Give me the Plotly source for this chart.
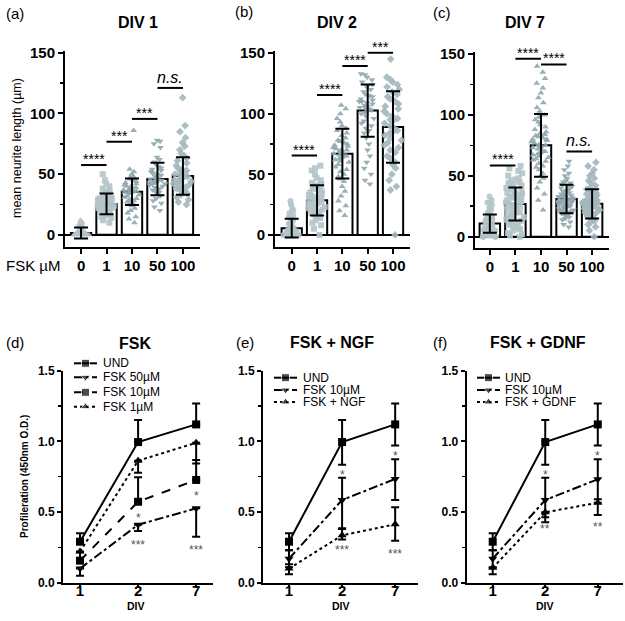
import plotly.graph_objects as go

FONT = "Liberation Sans, Arial, sans-serif"
W, H = 625, 621

# ---------------- data: neurite length (top) ----------------
conc_labels = ["0", "1", "10", "50", "100"]
len_ticks = [0, 50, 100, 150]

a_mean = [1.5, 25.5, 35.5, 46, 48.5]
a_sd = [4.5, 8.5, 11, 13.3, 15.5]
b_mean = [5.5, 28.5, 67, 102.5, 89]
b_sd = [7.7, 12.5, 20.5, 21.5, 29.5]
c_mean = [10.8, 26.8, 75, 31, 27]
c_sd = [7.5, 13.6, 25.7, 11.7, 12]

a_pts = [
    [0, 0, 0, 0, 0, 0, 0.5, 0.5, 1, 1, 1, 1.5, 2, 2, 2, 2.5, 3, 3, 3, 4, 4, 5, 5, 6, 7, 8, 9, 10, 11, 12, 0, 1, 2, 0, 1],
    [10, 12, 14, 15, 16, 17, 18, 18, 19, 20, 20, 21, 22, 22, 23, 24, 24, 25, 25, 26, 26, 27, 27, 28, 28, 29, 29, 30, 30, 31, 32, 33, 34, 35, 36, 38, 40, 42, 45, 50, 24, 26, 28, 30],
    [10, 13, 15, 18, 20, 22, 24, 25, 26, 27, 28, 29, 30, 31, 32, 33, 34, 35, 35, 36, 36, 37, 37, 38, 38, 39, 40, 41, 42, 43, 44, 45, 46, 47, 48, 50, 52, 54, 86, 35, 40],
    [20, 23, 26, 28, 30, 32, 34, 35, 36, 37, 38, 39, 40, 41, 42, 42, 43, 44, 44, 45, 46, 46, 47, 48, 49, 50, 51, 52, 53, 54, 55, 56, 58, 60, 62, 64, 72, 75, 77, 78, 45, 43],
    [25, 27, 29, 31, 33, 34, 35, 36, 37, 38, 39, 40, 41, 42, 43, 44, 45, 46, 47, 48, 49, 50, 51, 52, 53, 54, 55, 57, 59, 61, 63, 65, 67, 70, 73, 76, 80, 85, 90, 113, 48, 44],
]
b_pts = [
    [0, 0, 0, 0, 0, 1, 1, 1, 2, 2, 2, 3, 3, 4, 4, 5, 5, 6, 7, 8, 9, 10, 11, 12, 13, 14, 15, 16, 18, 20, 22, 25, 28, 0, 1, 2],
    [0, 5, 8, 10, 12, 14, 15, 16, 17, 18, 19, 20, 21, 22, 23, 24, 25, 26, 27, 28, 29, 30, 30, 31, 32, 33, 34, 35, 36, 37, 38, 39, 40, 41, 42, 43, 45, 47, 50, 53, 55, 57, 25, 28, 30, 22],
    [16, 20, 24, 28, 32, 36, 40, 44, 46, 48, 50, 52, 54, 56, 58, 60, 61, 62, 63, 64, 65, 66, 67, 68, 69, 70, 71, 72, 73, 74, 75, 76, 77, 78, 80, 82, 84, 86, 88, 90, 93, 96, 100, 104, 107, 65, 70],
    [42, 45, 50, 55, 60, 65, 70, 75, 80, 84, 86, 88, 90, 92, 94, 96, 98, 100, 101, 102, 103, 104, 105, 106, 107, 108, 109, 110, 111, 112, 114, 116, 118, 120, 122, 124, 126, 128, 130, 132, 133, 105, 110, 115],
    [0, 37, 40, 45, 50, 55, 58, 60, 63, 65, 68, 70, 72, 74, 76, 78, 80, 82, 84, 86, 88, 90, 92, 94, 96, 98, 100, 102, 104, 106, 108, 110, 112, 114, 116, 118, 120, 122, 124, 126, 128, 130, 145, 85, 95],
]
c_pts = [
    [0, 0, 0, 0, 1, 1, 1, 2, 2, 3, 3, 4, 4, 5, 5, 6, 6, 7, 7, 8, 8, 9, 10, 10, 11, 12, 13, 14, 15, 16, 17, 18, 20, 22, 24, 26, 28, 30, 33, 5, 8, 10],
    [0, 1, 2, 3, 5, 6, 7, 8, 9, 10, 11, 12, 13, 14, 15, 16, 17, 18, 19, 20, 21, 22, 23, 24, 25, 26, 27, 28, 29, 30, 31, 32, 33, 34, 35, 36, 37, 38, 39, 40, 41, 42, 43, 44, 45, 46, 47, 48, 50, 52, 54, 56, 58, 20, 25, 30, 35],
    [22, 30, 35, 40, 45, 48, 50, 52, 55, 57, 58, 60, 62, 63, 64, 65, 66, 67, 68, 69, 70, 71, 72, 73, 74, 75, 76, 77, 78, 79, 80, 81, 82, 83, 84, 85, 86, 88, 90, 92, 94, 96, 98, 100, 103, 106, 110, 114, 118, 122, 126, 130, 135, 140, 75, 80],
    [8, 10, 12, 14, 15, 16, 17, 18, 18, 19, 20, 20, 21, 21, 22, 22, 23, 23, 24, 24, 25, 25, 26, 26, 27, 27, 28, 28, 29, 29, 30, 30, 31, 31, 32, 32, 33, 33, 34, 34, 35, 35, 36, 37, 38, 39, 40, 41, 42, 43, 44, 45, 46, 48, 50, 52, 55, 58, 62, 25, 27, 29, 30, 31, 33],
    [0, 5, 8, 10, 12, 13, 14, 15, 16, 17, 18, 19, 20, 20, 21, 22, 22, 23, 24, 24, 25, 25, 26, 26, 27, 27, 28, 28, 29, 30, 30, 31, 32, 33, 34, 35, 36, 37, 38, 39, 40, 42, 44, 46, 48, 50, 52, 55, 58, 61, 24, 26, 28, 30],
]

# significance brackets: (from index, to index, height, label)
a_sig = [(0, 1, 57.5, "****"), (1, 2, 76.7, "***"), (2, 3, 95.5, "***"), (3, 4, 121, "<i>n.s.</i>")]
b_sig = [(0, 1, 65.4, "****"), (1, 2, 115.4, "****"), (2, 3, 139.3, "****"), (3, 4, 150.3, "***")]
c_sig = [(0, 1, 58.5, "****"), (1, 2, 146.2, "****"), (2, 3, 141.5, "****"), (3, 4, 70, "<i>n.s.</i>")]

# ---------------- data: proliferation (bottom) ----------------
div_labels = ["1", "2", "7"]
od_ticks = [0, 0.5, 1.0, 1.5]
od_tick_labels = ["0.0", "0.5", "1.0", "1.5"]

und_mean = [0.29, 0.995, 1.12]
und_up = [0.06, 0.157, 0.148]
und_dn = [0.06, 0.16, 0.15]

d_f50_mean = [0.10, 0.41, 0.526]
d_f50_dn = [0.05, 0.045, 0.2]
d_f10_mean = [0.156, 0.573, 0.727]
d_f10_up = [0.06, 0.173, 0.141]
d_f1_mean = [0.22, 0.863, 0.99]
d_f1_dn = [0.05, 0.085, 0.146]

e_f10_mean = [0.17, 0.585, 0.734]
e_f10_up = [0.06, 0.158, 0.139]
e_f10_dn = [0.06, 0.2, 0.149]
ngf_mean = [0.10, 0.335, 0.413]
ngf_up = [0.03, 0.045, 0.12]
ngf_dn = [0.04, 0.03, 0.116]

f_f10_mean = [0.17, 0.585, 0.732]
f_f10_up = [0.06, 0.158, 0.141]
f_f10_dn = [0.06, 0.158, 0.141]
gdnf_mean = [0.105, 0.498, 0.566]
gdnf_dn = [0.045, 0.035, 0.087]

d_stars = [(1, 0.479, "*"), (1, 0.29, "***"), (2, 0.637, "*"), (2, 0.255, "***")]
e_stars = [(1, 0.786, "*"), (1, 0.255, "***"), (2, 0.918, "*"), (2, 0.226, "***")]
f_stars = [(1, 0.786, "*"), (1, 0.40, "**"), (2, 0.918, "*"), (2, 0.415, "**")]

# ---------------- helpers ----------------
def px(x):
    return x / W

def py(y):
    return 1 - y / H

def bold(labels):
    return ["<b>%s</b>" % t for t in labels]

LIGHT = "#b3c4c9"
DARK = "#8fa7ae"
MID = "#a3b7bd"
dot_styles = [("triangle-up", LIGHT), ("square", LIGHT), ("triangle-up", DARK),
              ("triangle-down", DARK), ("diamond", MID)]
dot_styles_bc = [("circle", LIGHT), ("square", LIGHT), ("triangle-up", DARK),
                 ("triangle-down", DARK), ("diamond", MID)]

fig = go.Figure()
annotations = []

top_panels = [
    dict(n="", means=a_mean, sd=a_sd, pts=a_pts, sig=a_sig, styles=dot_styles,
         xdom=[px(65), px(200)], ydom=[py(247), py(50.9)], xr=[-0.63, 4.67], yr=[-10, 151.5]),
    dict(n="2", means=b_mean, sd=b_sd, pts=b_pts, sig=b_sig, styles=dot_styles_bc,
         xdom=[px(275), px(410)], ydom=[py(247), py(51.2)], xr=[-0.66, 4.67], yr=[-10, 151.5]),
    dict(n="3", means=c_mean, sd=c_sd, pts=c_pts, sig=c_sig, styles=dot_styles_bc,
         xdom=[px(475), px(609)], ydom=[py(248), py(52.2)], xr=[-0.58, 4.66], yr=[-9.3, 151.5]),
]

layout_axes = {}
idx = list(range(len(conc_labels)))
for p in top_panels:
    n = p["n"]
    xa, ya = "x" + n, "y" + n
    fig.add_trace(go.Bar(x=idx, y=p["means"], width=0.8, xaxis=xa, yaxis=ya,
                         marker=dict(color="white", line=dict(color="black", width=2)),
                         showlegend=False, hoverinfo="skip"))
    for i, vals in enumerate(p["pts"]):
        sym, col = p["styles"][i]
        fig.add_trace(go.Box(x=[idx[i]] * len(vals), y=vals, xaxis=xa, yaxis=ya,
                             boxpoints="all", jitter=1, pointpos=0, width=0.8,
                             fillcolor="rgba(0,0,0,0)", line=dict(width=0, color="rgba(0,0,0,0)"),
                             marker=dict(symbol=sym, color=col, size=6, opacity=0.9),
                             showlegend=False, hoverinfo="skip"))
    fig.add_trace(go.Scatter(x=idx, y=p["means"], mode="markers", xaxis=xa, yaxis=ya,
                             marker=dict(size=1, color="rgba(0,0,0,0)"),
                             error_y=dict(type="data", array=p["sd"], color="black", thickness=2, width=7),
                             showlegend=False, hoverinfo="skip"))
    for (i0, i1, h, lab) in p["sig"]:
        fig.add_trace(go.Scatter(x=[i0, i1], y=[h, h], mode="lines", xaxis=xa, yaxis=ya,
                                 line=dict(color="black", width=2), showlegend=False,
                                 hoverinfo="skip", cliponaxis=False))
        italic = "n.s." in lab
        annotations.append(dict(x=(i0 + i1) / 2, y=h, xref=xa, yref=ya, text=lab, showarrow=False,
                                yanchor="bottom", yshift=(0 if italic else -4),
                                font=dict(family=FONT, size=(16 if italic else 14), color="black")))
    layout_axes["xaxis" + n] = dict(domain=p["xdom"], range=p["xr"], anchor=ya, tickvals=idx,
                                    ticktext=bold(conc_labels), showline=True, linecolor="black", linewidth=2,
                                    ticks="outside", ticklen=5, tickwidth=2, tickcolor="black",
                                    ticklabelstandoff=-1,
                                    tickfont=dict(family=FONT, size=15, color="black"),
                                    showgrid=False, zeroline=False, automargin=False)
    layout_axes["yaxis" + n] = dict(domain=p["ydom"], range=p["yr"], anchor=xa,
                                    tickvals=len_ticks, ticktext=bold([str(v) for v in len_ticks]),
                                    showline=True, linecolor="black", linewidth=2,
                                    ticks="outside", ticklen=5, tickwidth=2, tickcolor="black",
                                    minor=dict(tickvals=[25, 75, 125], ticks="outside", ticklen=3,
                                               tickwidth=1.5, tickcolor="black"),
                                    tickfont=dict(family=FONT, size=15, color="black"),
                                    showgrid=False, zeroline=True, zerolinecolor="black", zerolinewidth=2,
                                    automargin=False)

# ---------------- bottom panels ----------------
zero3 = [0, 0, 0]
bottom_panels = [
    dict(n="4", xdom=[px(63), px(213)], xr=[-0.293, 2.29], stars=d_stars,
         series=[
             ("UND", und_mean, und_up, zero3, "solid", "square"),
             ("FSK 50µM", d_f50_mean, zero3, d_f50_dn, "dashdot", "triangle-down"),
             ("FSK 10µM", d_f10_mean, d_f10_up, zero3, "dash", "square"),
             ("FSK 1µM", d_f1_mean, zero3, d_f1_dn, "dot", "triangle-up"),
         ],
         leg=dict(ys=[363.3, 377.3, 392.3, 406.7], x0=74, x1=97, xt=102)),
    dict(n="5", xdom=[px(263), px(418)], xr=[-0.49, 2.43], stars=e_stars,
         series=[
             ("UND", und_mean, und_up, und_dn, "solid", "square"),
             ("FSK 10µM", e_f10_mean, e_f10_up, e_f10_dn, "dashdot", "triangle-down"),
             ("FSK + NGF", ngf_mean, ngf_up, ngf_dn, "dot", "triangle-up"),
         ],
         leg=dict(ys=[377.7, 390, 402], x0=274, x1=297, xt=302)),
    dict(n="6", xdom=[px(466.7), px(623)], xr=[-0.495, 2.48], stars=f_stars,
         series=[
             ("UND", und_mean, und_up, und_dn, "solid", "square"),
             ("FSK 10µM", f_f10_mean, f_f10_up, f_f10_dn, "dashdot", "triangle-down"),
             ("FSK + GDNF", gdnf_mean, zero3, gdnf_dn, "dot", "triangle-up"),
         ],
         leg=dict(ys=[377.7, 390, 402], x0=477, x1=500, xt=504)),
]

didx = list(range(len(div_labels)))
for p in bottom_panels:
    n = p["n"]
    xa, ya = "x" + n, "y" + n
    for (name, m, up, dn, dash, sym) in p["series"]:
        fig.add_trace(go.Scatter(x=didx, y=m, mode="lines+markers", xaxis=xa, yaxis=ya,
                                 line=dict(color="black", width=2, dash=dash),
                                 marker=dict(symbol=sym, size=8, color="black"),
                                 error_y=dict(type="data", symmetric=False, array=up, arrayminus=dn,
                                              color="black", thickness=2, width=4),
                                 cliponaxis=False, showlegend=False, hoverinfo="skip"))
    for (xi, yv, lab) in p["stars"]:
        annotations.append(dict(x=xi, y=yv, xref=xa, yref=ya, text=lab, showarrow=False,
                                yshift=-3, font=dict(family=FONT, size=12, color="#555555")))
    lg = p["leg"]
    for k, (name, m, up, dn, dash, sym) in enumerate(p["series"]):
        yy = lg["ys"][k]
        fig.add_trace(go.Scatter(x=[lg["x0"], (lg["x0"] + lg["x1"]) / 2, lg["x1"]], y=[yy, yy, yy],
                                 mode="lines+markers", xaxis="x7", yaxis="y7",
                                 line=dict(color="black", width=2, dash=dash),
                                 marker=dict(symbol=sym, size=[0, 8, 0], color="black"),
                                 showlegend=False, hoverinfo="skip", cliponaxis=False))
        annotations.append(dict(x=px(lg["xt"]), y=py(yy), xref="paper", yref="paper", text=name,
                                showarrow=False, xanchor="left", yanchor="middle", borderpad=0,
                                font=dict(family=FONT, size=12, color="black")))
    layout_axes["xaxis" + n] = dict(domain=p["xdom"], range=p["xr"], anchor=ya, tickvals=didx,
                                    ticktext=bold(div_labels), showline=True, linecolor="black", linewidth=2,
                                    ticks="outside", ticklen=3, tickwidth=2, tickcolor="black",
                                    ticklabelstandoff=-10,
                                    tickfont=dict(family=FONT, size=15, color="black"),
                                    showgrid=False, zeroline=False, automargin=False)
    layout_axes["yaxis" + n] = dict(domain=[py(582.7), py(370.7)], range=[0, 1.5], anchor=xa,
                                    tickvals=od_ticks, ticktext=bold(od_tick_labels),
                                    showline=True, linecolor="black", linewidth=2,
                                    ticks="outside", ticklen=4, tickwidth=2, tickcolor="black",
                                    minor=dict(tickvals=[0.25, 0.75, 1.25], ticks="outside", ticklen=3,
                                               tickwidth=1.5, tickcolor="black"),
                                    tickfont=dict(family=FONT, size=12, color="black"),
                                    showgrid=False, zeroline=False, automargin=False)

layout_axes["xaxis7"] = dict(domain=[0, 1], range=[0, W], visible=False, anchor="y7",
                             fixedrange=True, automargin=False)
layout_axes["yaxis7"] = dict(domain=[0, 1], range=[H, 0], visible=False, anchor="x7",
                             fixedrange=True, automargin=False)

# ---------------- titles & labels ----------------
texts = [
    ("(a)", 15, 14, 15, False, 0), ("DIV 1", 138, 22, 16, True, 0),
    ("(b)", 244, 12, 15, False, 0), ("DIV 2", 337, 22, 16, True, 0),
    ("(c)", 442, 13, 15, False, 0), ("DIV 7", 525, 22, 16, True, 0),
    ("(d)", 15, 342, 15, False, 0), ("FSK", 135, 343, 16, True, 0),
    ("(e)", 245, 342, 15, False, 0), ("FSK + NGF", 332, 342, 16, True, 0),
    ("(f)", 440, 342, 15, False, 0), ("FSK + GDNF", 538, 342, 16, True, 0),
    ("DIV", 136, 606, 10.5, True, 0), ("DIV", 341, 606, 10.5, True, 0),
    ("DIV", 545, 606, 10.5, True, 0),
    ("mean neurite length (µm)", 17, 148, 12.5, False, -90),
    ("Profileration (450nm O.D.)", 24, 477, 10, True, -90),
    ("FSK µM", 33, 265, 15, False, 0),
]
for (t, x, y, s, b, ang) in texts:
    annotations.append(dict(x=px(x), y=py(y), xref="paper", yref="paper",
                            text=("<b>%s</b>" % t) if b else t, showarrow=False,
                            xanchor="center", yanchor="middle", textangle=ang,
                            font=dict(family=FONT, size=s, color="black")))

fig.update_layout(template="none", width=W, height=H, margin=dict(l=0, r=0, t=0, b=0, pad=0),
                  paper_bgcolor="white", plot_bgcolor="rgba(0,0,0,0)",
                  boxmode="overlay", barmode="overlay", showlegend=False,
                  annotations=annotations, **layout_axes)

fig.write_html("out.html", config={"displayModeBar": False, "staticPlot": True},
               post_script="document.body.style.margin='0';document.body.style.padding='0';")
